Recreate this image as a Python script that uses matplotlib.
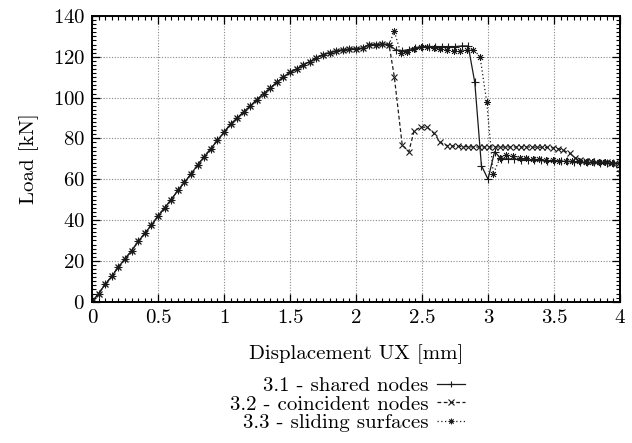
import numpy as np
import matplotlib
matplotlib.use('Agg')
import matplotlib.pyplot as plt
from matplotlib.ticker import MultipleLocator

# shared elastic/hardening branch (identical for all three models)
load_x = [0.00, 0.05, 0.10, 0.15, 0.20, 0.25, 0.30, 0.35, 0.40, 0.45,
          0.50, 0.55, 0.60, 0.65, 0.70, 0.75, 0.80, 0.85, 0.90, 0.95,
          1.00, 1.05, 1.10, 1.15, 1.20, 1.25, 1.30, 1.35, 1.40, 1.45,
          1.50, 1.55, 1.60, 1.65, 1.70, 1.75, 1.80, 1.85, 1.90, 1.95,
          2.00, 2.05, 2.10, 2.15, 2.20, 2.25]
load_y = [0.0, 4.0, 8.5, 12.5, 17.0, 21.0, 25.0, 29.5, 33.5, 37.5,
          42.0, 46.0, 50.0, 54.5, 58.5, 62.5, 67.0, 71.0, 75.0, 79.0,
          83.0, 87.0, 90.0, 93.0, 96.0, 99.0, 102.0, 104.6, 107.5, 110.0,
          112.4, 114.0, 116.0, 117.6, 119.5, 121.0, 122.0, 122.8, 123.4, 123.7,
          124.0, 124.2, 126.0, 126.0, 126.2, 126.0]

# 3.1 - shared nodes
shared_x = [2.30, 2.35, 2.40, 2.45, 2.50, 2.55, 2.60, 2.65, 2.70, 2.75,
            2.80, 2.85, 2.90, 2.95, 3.00, 3.05, 3.10, 3.15, 3.20, 3.25,
            3.30, 3.35, 3.40, 3.45, 3.50, 3.55, 3.60, 3.65, 3.70, 3.75,
            3.80, 3.85, 3.90, 3.95, 4.00]
shared_y = [123.4, 123.0, 123.5, 124.5, 125.0, 125.0, 125.0, 125.0, 125.0, 125.0,
            125.3, 125.3, 107.4, 66.7, 60.0, 73.5, 70.0, 70.0, 69.8, 69.6,
            69.5, 69.3, 69.2, 69.0, 68.9, 68.8, 68.7, 68.5, 68.4, 68.3,
            68.2, 68.1, 68.0, 67.9, 67.8]

# 3.2 - coincident nodes
coinc_x = [2.29, 2.35, 2.40, 2.44, 2.49, 2.54, 2.59, 2.64, 2.69, 2.73,
           2.77, 2.81, 2.85, 2.89, 2.93, 2.97, 3.01, 3.05, 3.09, 3.13,
           3.17, 3.21, 3.25, 3.29, 3.33, 3.37, 3.41, 3.45, 3.49, 3.53,
           3.57, 3.62, 3.66, 3.70, 3.74, 3.78, 3.82, 3.86, 3.90, 3.93,
           3.96, 4.00]
coinc_y = [110.3, 76.8, 73.5, 83.7, 85.5, 85.5, 82.5, 78.0, 76.5, 76.3,
           76.1, 76.0, 75.9, 75.8, 75.8, 75.8, 75.8, 75.8, 75.8, 75.8,
           75.8, 75.8, 75.8, 75.8, 75.8, 75.7, 75.7, 75.6, 75.4, 75.0,
           74.2, 72.7, 70.5, 69.3, 69.0, 68.8, 68.6, 68.4, 68.2, 68.0,
           67.8, 63.0]

# 3.3 - sliding surfaces
slide_x = [2.29, 2.34, 2.39, 2.44, 2.49, 2.54, 2.59, 2.64, 2.69, 2.74,
           2.79, 2.84, 2.89, 2.94, 2.99, 3.04, 3.09, 3.14, 3.19, 3.24,
           3.29, 3.34, 3.39, 3.44, 3.49, 3.54, 3.59, 3.64, 3.69, 3.74,
           3.79, 3.84, 3.89, 3.94, 3.99]
slide_y = [132.4, 121.8, 122.2, 124.0, 125.0, 125.0, 124.5, 124.0, 123.5, 123.0,
           123.0, 123.2, 123.5, 120.0, 98.0, 62.6, 70.3, 71.8, 71.5, 70.6,
           70.2, 69.9, 69.7, 69.5, 69.3, 69.1, 69.0, 68.8, 68.7, 68.5,
           68.4, 68.3, 68.2, 68.1, 68.0]

labels = ['3.1 - shared nodes', '3.2 - coincident nodes', '3.3 - sliding surfaces']

FS = 15
plt.rcParams.update({
    'font.family': 'cmr10',
    'mathtext.fontset': 'cm',
    'axes.formatter.use_mathtext': True,
    'font.size': FS,
})

fig = plt.figure(figsize=(6.32, 4.43), dpi=100)
ax = fig.add_axes([0.1456, 0.319, 0.8354, 0.645])

ink = '#1a1a1a'
asterisk = (8, 2, 0)
ax.plot(load_x + shared_x, load_y + shared_y, color=ink, linestyle='-',
        linewidth=0.9, marker='+', markersize=6, markeredgewidth=0.8,
        label=labels[0])
ax.plot(load_x + coinc_x, load_y + coinc_y, color=ink, linestyle=(0, (3, 2)),
        linewidth=0.9, marker='x', markersize=5, markeredgewidth=0.8,
        label=labels[1])
ax.plot(load_x + slide_x, load_y + slide_y, color=ink, linestyle=(0, (1, 2)),
        linewidth=0.9, marker=asterisk, markersize=5, markeredgewidth=0.6,
        label=labels[2])

ax.set_xlim(0, 4)
ax.set_ylim(0, 140)
ax.xaxis.set_major_locator(MultipleLocator(0.5))
ax.xaxis.set_minor_locator(MultipleLocator(0.05))
ax.yaxis.set_major_locator(MultipleLocator(20))
ax.yaxis.set_minor_locator(MultipleLocator(2))
ax.xaxis.set_major_formatter(matplotlib.ticker.FuncFormatter(lambda v, p: f'{v:g}'))
ax.tick_params(which='both', direction='in', top=True, right=True, colors='black')
ax.tick_params(which='major', length=6, width=0.9, labelsize=FS, pad=5)
ax.tick_params(which='minor', length=3, width=0.8)
for s in ax.spines.values():
    s.set_linewidth(1.4)
ax.grid(True, which='major', linestyle=(0, (1, 1.5)), color='#888888', linewidth=0.8)

ax.set_xlabel('Displacement UX [mm]', fontsize=FS, labelpad=13)
ax.set_ylabel('Load [kN]', fontsize=FS, labelpad=10)

ax.legend(loc='upper right', bbox_to_anchor=(0.706, -0.262), frameon=False,
          markerfirst=False, handlelength=1.35, handletextpad=0.4,
          labelspacing=0.0, borderpad=0, borderaxespad=0,
          fontsize=FS, markerscale=0.8)

fig.savefig('out.png', dpi=100)
